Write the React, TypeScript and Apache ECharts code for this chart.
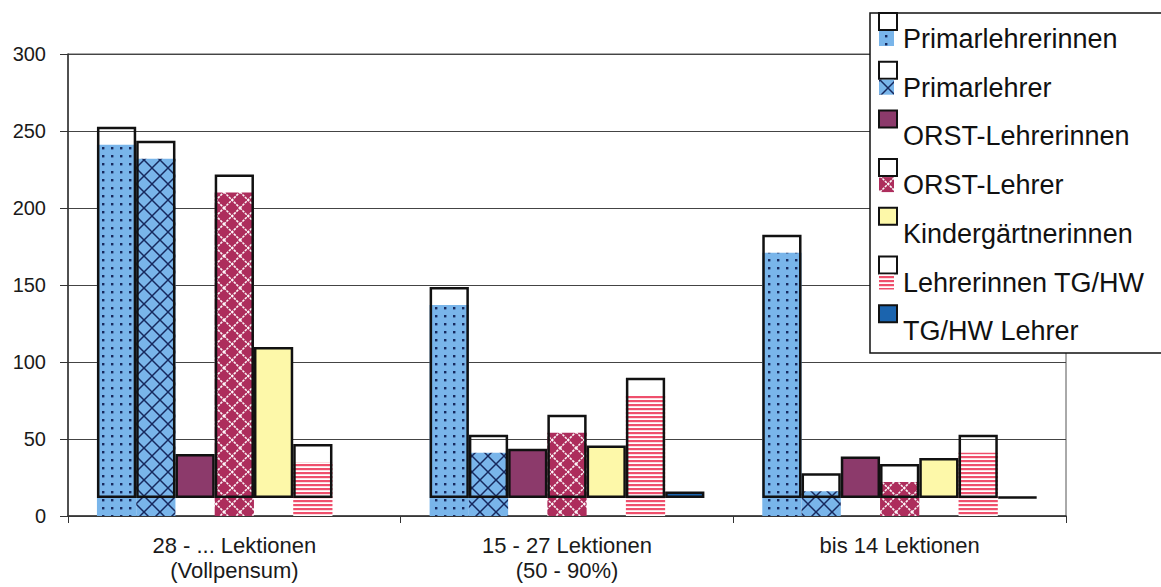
import React, { useEffect, useRef } from "react";
import * as echarts from "echarts";

// ---------- data ----------
const categories = [
  "28 - ... Lektionen\n(Vollpensum)",
  "15 - 27 Lektionen\n(50 - 90%)",
  "bis 14 Lektionen",
];
const seriesNames = [
  "Primarlehrerinnen",
  "Primarlehrer",
  "ORST-Lehrerinnen",
  "ORST-Lehrer",
  "Kindergärtnerinnen",
  "Lehrerinnen TG/HW",
  "TG/HW Lehrer",
];
const primarlehrerinnen = [241, 137, 171];
const primarlehrer = [232, 41, 16];
const orstLehrerinnen = [28.5, 32, 27];
const orstLehrer = [210, 54, 22];
const kindergaertnerinnen = [98, 34, 26];
const lehrerinnenTGHW = [35, 78, 41];
const tghwLehrer = [null, 4.2, 0.5];
const yMin = 0;
const yMax = 300;
const yInterval = 50;

// ---------- styles ----------
const LAYER_OFFSET = 11.7; // misregistered outline layer (value units)
const FONT = "'Liberation Sans', Arial, sans-serif";
const LIGHT_BLUE = "#79b5ea";
const NAVY = "#17295e";
const CRIMSON = "#ad2d5c";
const PLUM = "#8c3a6b";
const YELLOW = "#fdf8a9";
const BLUE = "#1b64ae";
const STRIPE_RED = "#ef4f6c";

function tile(w: number, h: number, draw: (ctx: CanvasRenderingContext2D) => void) {
  const c = document.createElement("canvas");
  c.width = w;
  c.height = h;
  const ctx = c.getContext("2d")!;
  draw(ctx);
  return { image: c, repeat: "repeat", imageWidth: w, imageHeight: h } as any;
}

function lattice(bg: string, fg: string, lw: number, dash: number[] | null) {
  const s = 16;
  return tile(s, s, (ctx) => {
    ctx.fillStyle = bg;
    ctx.fillRect(0, 0, s, s);
    ctx.strokeStyle = fg;
    ctx.lineWidth = lw;
    if (dash) ctx.setLineDash(dash);
    for (let k = -1; k <= 1; k++) {
      ctx.beginPath();
      ctx.moveTo(k * s, s);
      ctx.lineTo(k * s + s, 0);
      ctx.stroke();
      ctx.beginPath();
      ctx.moveTo(k * s, 0);
      ctx.lineTo(k * s + s, s);
      ctx.stroke();
    }
  });
}

export default function App() {
  const ref = useRef<HTMLDivElement>(null);

  useEffect(() => {
    const chart = echarts.init(ref.current!, null, { renderer: "svg" });

    const dots = tile(9, 8, (ctx) => {
      ctx.fillStyle = LIGHT_BLUE;
      ctx.fillRect(0, 0, 9, 8);
      ctx.fillStyle = NAVY;
      ctx.fillRect(3, 3, 2.4, 2.4);
    });
    const weaveBlue = lattice(LIGHT_BLUE, NAVY, 1.5, null);
    const weaveRed = lattice(CRIMSON, "rgba(255,255,255,0.95)", 1.6, [2.5, 1]);
    const stripes = tile(4, 4, (ctx) => {
      ctx.fillStyle = "#ffffff";
      ctx.fillRect(0, 0, 4, 4);
      ctx.fillStyle = STRIPE_RED;
      ctx.fillRect(0, 0, 4, 2.2);
    });

    const seriesData = [
      primarlehrerinnen,
      primarlehrer,
      orstLehrerinnen,
      orstLehrer,
      kindergaertnerinnen,
      lehrerinnenTGHW,
      tghwLehrer,
    ];
    const fills: any[] = [dots, weaveBlue, PLUM, weaveRed, YELLOW, stripes, BLUE];
    const patterned = [true, true, false, true, false, true, false];
    const layout = { barGap: "0%", barCategoryGap: "17.4%" };

    const series: any[] = [];
    seriesData.forEach((vals, i) => {
      // colour/pattern layer aligned with the axis
      series.push({
        type: "bar",
        name: seriesNames[i] + " (Füllung)",
        xAxisIndex: 1,
        yAxisIndex: 0,
        data: patterned[i] ? vals : vals.map(() => null),
        itemStyle: { color: fills[i] },
        z: 2,
        silent: true,
        ...layout,
      });
      // shifted outline layer: invisible base + outlined box
      series.push({
        type: "bar",
        xAxisIndex: 0,
        yAxisIndex: 0,
        stack: "s" + i,
        data: vals.map((v) => (v == null ? null : LAYER_OFFSET)),
        itemStyle: { color: "transparent", borderWidth: 0 },
        z: 3,
        silent: true,
        ...layout,
      });
      series.push({
        type: "bar",
        name: seriesNames[i],
        xAxisIndex: 0,
        yAxisIndex: 0,
        stack: "s" + i,
        data: vals,
        itemStyle: {
          color: patterned[i] ? "transparent" : fills[i],
          borderColor: "#111",
          borderWidth: 2.5,
        },
        z: 3,
        ...layout,
      });
    });

    // legend drawn as graphic (icons stacked like the original)
    const legendEls: any[] = [
      {
        type: "rect",
        shape: { x: 870, y: 13, width: 300, height: 340 },
        style: { fill: "#fff", stroke: "#111", lineWidth: 1.5 },
        z: 100,
      },
    ];
    seriesNames.forEach((name, i) => {
      const top = 13 + i * 48.7;
      legendEls.push({
        type: "rect",
        shape: { x: 879, y: top, width: 18, height: 17 },
        style: { fill: patterned[i] ? "#fff" : fills[i], stroke: "#111", lineWidth: 2 },
        z: 101,
      });
      if (patterned[i]) {
        legendEls.push({
          type: "rect",
          shape: { x: 879, y: top + 18, width: 15, height: 15 },
          style: { fill: fills[i] },
          z: 101,
        });
      }
      legendEls.push({
        type: "text",
        x: 903,
        y: top + 26,
        style: {
          text: name,
          fontSize: 27,
          fontFamily: FONT,
          fill: "#111",
          verticalAlign: "middle",
          align: "left",
        },
        z: 102,
      });
    });

    const xAxisBase = {
      type: "category",
      data: categories,
    };

    chart.setOption({
      animation: false,
      backgroundColor: "#ffffff",
      textStyle: { fontFamily: FONT },
      grid: {
        left: 68,
        right: 95,
        top: 54,
        bottom: 71,
        show: true,
        borderColor: "#555",
        borderWidth: 1,
        backgroundColor: "transparent",
      },
      xAxis: [
        {
          ...xAxisBase,
          axisLine: { lineStyle: { color: "#333", width: 1.5 } },
          axisTick: { show: true, alignWithLabel: false, length: 7, lineStyle: { color: "#333" } },
          axisLabel: {
            fontSize: 22,
            lineHeight: 25,
            color: "#1a1a1a",
            margin: 17,
            fontFamily: FONT,
          },
        },
        {
          ...xAxisBase,
          show: false,
        },
      ],
      yAxis: {
        type: "value",
        min: yMin,
        max: yMax,
        interval: yInterval,
        axisLine: { show: true, lineStyle: { color: "#333", width: 1.5 } },
        axisTick: { show: true, length: 8, lineStyle: { color: "#333" } },
        axisLabel: { fontSize: 20, color: "#1a1a1a", margin: 22, fontFamily: FONT },
        splitLine: { show: true, lineStyle: { color: "#444", width: 1 } },
      },
      series,
      graphic: { elements: legendEls },
    });

    return () => chart.dispose();
  }, []);

  return (
    <div
      ref={ref}
      style={{ position: "fixed", left: 0, top: 0, width: 1161, height: 587, background: "#fff" }}
    />
  );
}
